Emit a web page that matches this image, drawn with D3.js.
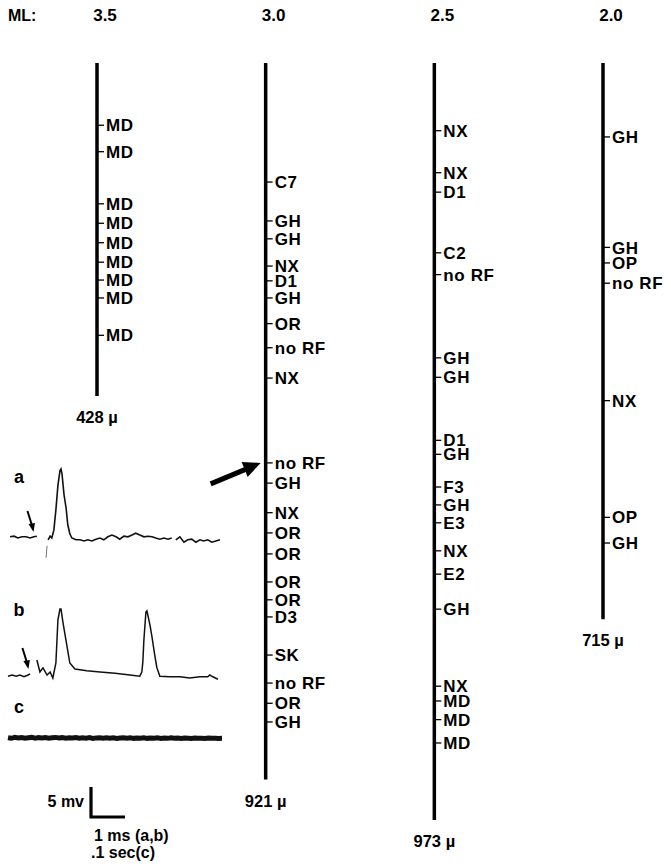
<!DOCTYPE html>
<html>
<head>
<meta charset="utf-8">
<script src="https://cdn.jsdelivr.net/npm/d3@7"></script>
<style>
  body { margin: 0; background: #fff; }
  svg text { font-family: "Liberation Sans", Arial, sans-serif; font-weight: bold; fill: #000; }
</style>
</head>
<body>
<div id="chart"></div>
<script>
const width = 671,
  height = 867;

// electrode tracks: mediolateral position, total depth (microns)
const mlPositions = ["3.5", "3.0", "2.5", "2.0"];
const trackDepths = [428, 921, 973, 715];

// receptive field recordings along each track: depth (µ) and label
const track1Depths = [80, 114, 181, 206, 231, 256, 279, 302, 350];
const track1Labels = ["MD", "MD", "MD", "MD", "MD", "MD", "MD", "MD", "MD"];

const track2Depths = [153, 203, 226, 261, 280, 302, 335, 366, 405, 514, 540, 578, 604, 631, 667, 690, 712, 761, 797, 823, 847];
const track2Labels = ["C7", "GH", "GH", "NX", "D1", "GH", "OR", "no RF", "NX", "no RF", "GH", "NX", "OR", "OR", "OR", "OR", "D3", "SK", "no RF", "OR", "GH"];

const track3Depths = [87, 141, 166, 244, 272, 379, 404, 485, 503, 545, 568, 591, 627, 657, 702, 801, 820, 844, 874];
const track3Labels = ["NX", "NX", "D1", "C2", "no RF", "GH", "GH", "D1", "GH", "F3", "GH", "E3", "NX", "E2", "GH", "NX", "MD", "MD", "MD"];

const track4Depths = [95, 237, 257, 283, 434, 584, 617];
const track4Labels = ["GH", "GH", "OP", "no RF", "NX", "OP", "GH"];

// recordings (time in ms, potential in mV relative to baseline)
const traceA1 = [[0.06, 0.2], [0.18, 0.3], [0.29, 0], [0.41, 0.2], [0.53, 0.2], [0.65, 0], [0.76, 0.2], [0.85, 0.3]];
const traceA2 = [[1.18, -0.3], [1.24, 0.3], [1.29, 0], [1.35, 1.3], [1.41, 4.7], [1.47, 8.8], [1.53, 11.2], [1.56, 11.5],
  [1.59, 10.7], [1.65, 7.2], [1.71, 5.0], [1.76, 2.2], [1.82, 0.7], [1.88, 0], [2.0, -0.3], [2.12, -0.3], [2.24, -0.5],
  [2.35, -0.3], [2.47, -0.5], [2.59, -0.2], [2.71, 0], [2.82, -0.3], [2.94, 0.2], [3.06, 0.5], [3.18, 0.2], [3.29, -0.2],
  [3.41, 0.3], [3.53, 0.2], [3.65, 0.5], [3.76, 0.8], [3.88, 0.5], [4.0, 0.2], [4.12, 0.3], [4.24, 0.2], [4.35, 0],
  [4.47, -0.2], [4.59, 0], [4.71, -0.2], [4.82, 0]];
const traceA3 = [[4.94, -0.3], [5.06, 0.2], [5.18, -0.7], [5.29, -0.3], [5.41, -0.2], [5.53, -0.7], [5.65, -0.3],
  [5.76, -0.5], [5.88, -0.3], [6.0, -0.7], [6.12, -0.5], [6.24, -0.3]];
const traceAFaint = [[1.15, -1.3], [1.12, -3.3]];

const traceB1 = [[0, -0.2], [0.12, 0], [0.24, -0.2], [0.35, 0], [0.47, -0.3], [0.59, 0], [0.65, 0.2]];
const traceB2 = [[0.85, 2.5], [0.94, 0.5], [1.03, 1.2], [1.15, 0], [1.24, 0.5], [1.32, -0.5], [1.41, 2.0], [1.47, 9.2],
  [1.53, 11.0], [1.56, 11.0], [1.62, 8.7], [1.74, 4.7], [1.82, 2.0], [1.97, 1.0], [2.32, 0.7], [2.71, 0.5], [3.15, 0.3],
  [3.59, 0], [3.88, -0.2], [3.94, 0.5], [3.97, 2.2], [4.0, 5.8], [4.06, 10.5], [4.09, 10.7], [4.18, 8.3], [4.24, 6.3],
  [4.32, 3.3], [4.38, 1.3], [4.47, -0.2], [4.76, -0.3], [5.06, -0.3], [5.35, -0.5], [5.65, -0.3], [5.88, -0.3],
  [5.94, 0], [6.03, -0.3], [6.18, -0.7]];

const traceC = [[0, 0.05], [0.1, -0.05], [0.2, 0.1], [0.3, 0], [0.4, 0.08], [0.5, -0.05], [0.6, 0.05], [0.7, 0.1],
  [0.8, -0.03], [0.9, 0.06], [1.0, 0], [1.1, 0.08], [1.2, -0.05], [1.3, 0.04], [1.4, 0.1], [1.5, 0], [1.6, 0.06],
  [1.7, -0.04], [1.8, 0.05], [1.9, 0], [2.0, 0.07], [2.1, -0.05], [2.2, 0.03], [2.3, -0.02], [2.4, 0.06], [2.5, -0.06],
  [2.6, 0.02], [2.7, 0.05], [2.8, -0.05], [2.9, 0.03], [3.0, -0.04], [3.1, 0.04], [3.2, -0.08], [3.3, 0], [3.4, 0.05],
  [3.5, -0.04], [3.6, 0.02], [3.7, -0.06], [3.8, 0], [3.9, -0.05], [4.0, 0.04], [4.1, -0.06], [4.2, 0], [4.3, -0.03],
  [4.4, 0.03], [4.5, -0.08], [4.6, -0.02], [4.7, -0.06], [4.8, 0.02], [4.9, -0.05], [5.0, -0.02], [5.1, -0.07],
  [5.2, 0], [5.3, -0.04], [5.4, -0.08], [5.5, -0.02], [5.6, -0.06], [5.7, -0.03], [5.8, -0.08], [5.9, -0.02],
  [6.0, -0.06], [6.1, -0.04], [6.2, -0.07], [6.3, -0.05]];

const traceNames = ["a", "b", "c"];
const scaleBarMv = 5;
const scaleBarMs = 1;

const tracks = [
  { ml: mlPositions[0], depth: trackDepths[0], depths: track1Depths, labels: track1Labels },
  { ml: mlPositions[1], depth: trackDepths[1], depths: track2Depths, labels: track2Labels },
  { ml: mlPositions[2], depth: trackDepths[2], depths: track3Depths, labels: track3Labels },
  { ml: mlPositions[3], depth: trackDepths[3], depths: track4Depths, labels: track4Labels },
];

const svg = d3.select("#chart")
  .append("svg")
  .attr("width", width)
  .attr("height", height);

svg.append("rect").attr("width", width).attr("height", height).attr("fill", "#fff");

// horizontal placement of tracks by ML position
const xScale = d3.scalePoint()
  .domain(mlPositions)
  .range([97, 603]);

// depth in microns -> pixels (same for all tracks)
const yScale = d3.scaleLinear()
  .domain([0, 1000])
  .range([63, 841]);

svg.append("text")
  .attr("x", 8)
  .attr("y", 21)
  .attr("font-size", 16)
  .text("ML:");

const track = svg.selectAll("g.track")
  .data(tracks)
  .join("g")
  .attr("class", "track")
  .attr("transform", d => `translate(${xScale(d.ml)},0)`);

track.append("text")
  .attr("x", 8)
  .attr("y", 21)
  .attr("text-anchor", "middle")
  .attr("font-size", 17)
  .text(d => d.ml);

track.append("line")
  .attr("y1", yScale(0))
  .attr("y2", d => yScale(d.depth))
  .attr("stroke", "#000")
  .attr("stroke-width", 3.5);

track.append("text")
  .attr("class", "depth-label")
  .attr("y", d => yScale(d.depth) + 27)
  .attr("text-anchor", "middle")
  .attr("font-size", 16.5)
  .text(d => `${d.depth} µ`);

const site = track.selectAll("g.site")
  .data(d => d.depths.map((v, i) => ({ depth: v, label: d.labels[i] })))
  .join("g")
  .attr("class", "site")
  .attr("transform", d => `translate(0,${yScale(d.depth)})`);

site.append("line")
  .attr("x1", 1)
  .attr("x2", 7)
  .attr("stroke", "#000")
  .attr("stroke-width", 1.3);

site.append("text")
  .attr("x", 9)
  .attr("dy", "0.36em")
  .attr("font-size", 17)
  .attr("letter-spacing", 0.6)
  .text(d => d.label);

// big arrow pointing at the "no RF" site where records were taken
const target = yScale(track2Depths[9]);
const tipX = xScale("3.0") - 5;
svg.append("line")
  .attr("x1", tipX - 50)
  .attr("y1", target + 21)
  .attr("x2", tipX - 14)
  .attr("y2", target + 6)
  .attr("stroke", "#000")
  .attr("stroke-width", 5);
svg.append("path")
  .attr("d", `M${tipX},${target} L${tipX - 19},${target - 1} L${tipX - 13},${target + 14} Z`)
  .attr("fill", "#000");

// recordings a, b, c
const tScale = d3.scaleLinear().domain([0, 6.3]).range([8, 222]);
const vScale = d3.scaleLinear().domain([0, 5]).range([0, -30]);
const line = d3.line().x(d => tScale(d[0])).y(d => vScale(d[1])).curve(d3.curveLinear);

const baselines = [538, 675, 738];
const traceGroups = svg.selectAll("g.trace")
  .data(traceNames)
  .join("g")
  .attr("class", "trace")
  .attr("transform", (d, i) => `translate(0,${baselines[i]})`);

traceGroups.append("text")
  .attr("x", 19)
  .attr("y", (d, i) => [-55, -59, -25][i])
  .attr("text-anchor", "middle")
  .attr("font-size", 18)
  .text(d => d);

const gA = traceGroups.filter(d => d === "a");
const gB = traceGroups.filter(d => d === "b");
const gC = traceGroups.filter(d => d === "c");

[traceA1, traceA2, traceA3].forEach(seg => {
  gA.append("path").attr("d", line(seg)).attr("fill", "none").attr("stroke", "#111").attr("stroke-width", 1.6);
});
gA.append("path").attr("d", line(traceAFaint)).attr("fill", "none").attr("stroke", "#777").attr("stroke-width", 1);

[traceB1, traceB2].forEach(seg => {
  gB.append("path").attr("d", line(seg)).attr("fill", "none").attr("stroke", "#111").attr("stroke-width", 1.5);
});

gC.append("path").attr("d", line(traceC)).attr("fill", "none").attr("stroke", "#111").attr("stroke-width", 5);

// stimulus arrows
function smallArrow(g, t, v) {
  const x = tScale(t), y = vScale(v);
  g.append("line").attr("x1", x - 6).attr("y1", y - 21).attr("x2", x - 1).attr("y2", y - 5)
    .attr("stroke", "#000").attr("stroke-width", 2);
  g.append("path").attr("d", `M${x},${y} L${x - 5},${y - 8} L${x + 1.5},${y - 9} Z`).attr("fill", "#000");
}
smallArrow(gA, 0.75, 1.0);
smallArrow(gB, 0.6, 1.0);

// scale bar
const barX = 91, barY = 817;
svg.append("path")
  .attr("d", `M${barX},${barY + vScale(scaleBarMv)} V${barY} H${barX + tScale(scaleBarMs) - tScale(0)}`)
  .attr("fill", "none")
  .attr("stroke", "#000")
  .attr("stroke-width", 3.2);
svg.append("text").attr("x", 84).attr("y", 807).attr("text-anchor", "end").attr("font-size", 16).text("5 mv");
svg.append("text").attr("x", 94).attr("y", 841).attr("font-size", 16).text("1 ms (a,b)");
svg.append("text").attr("x", 91).attr("y", 858).attr("font-size", 16).text(".1 sec(c)");
</script>
</body>
</html>
